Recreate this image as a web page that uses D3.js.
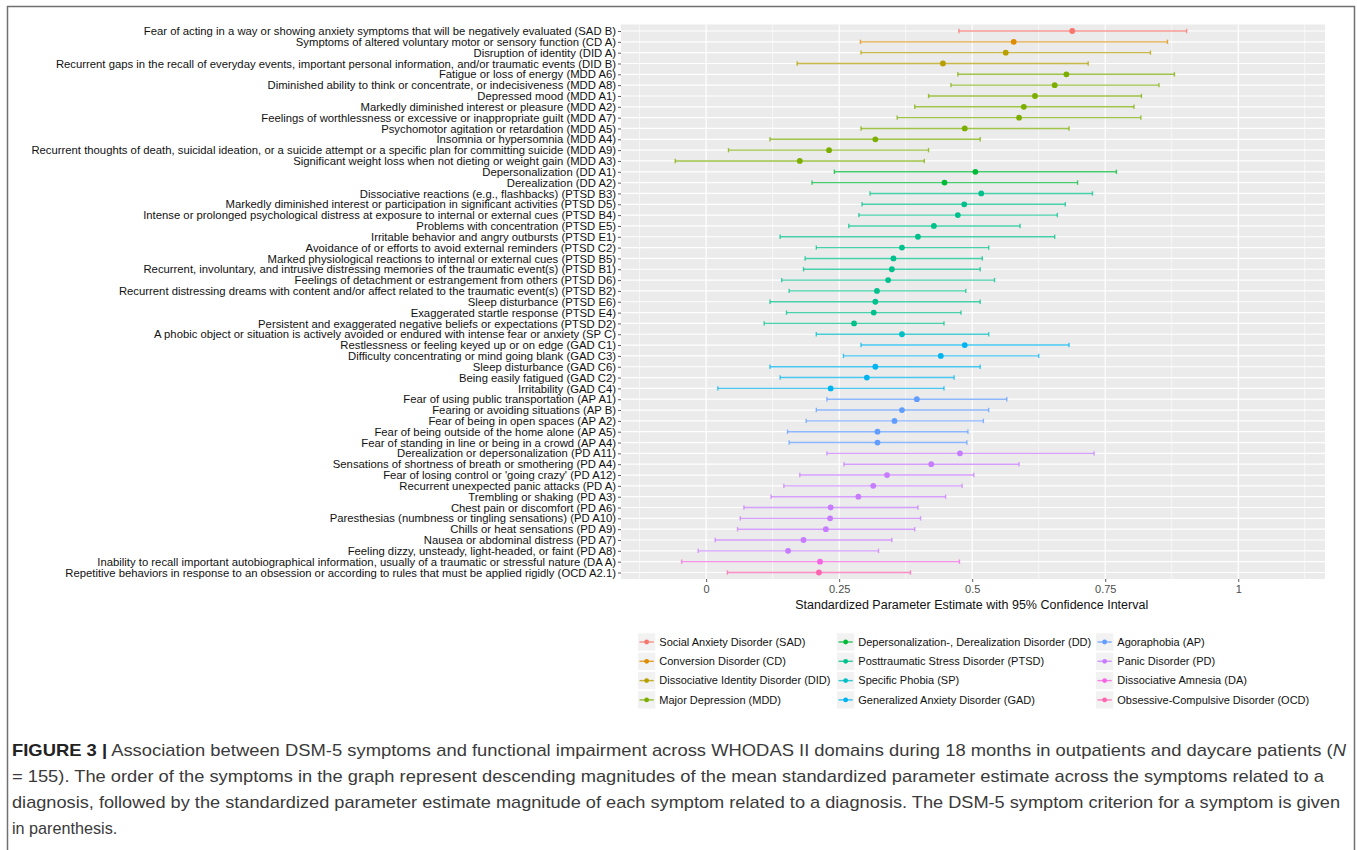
<!DOCTYPE html>
<html>
<head>
<meta charset="utf-8">
<script src="https://cdn.jsdelivr.net/npm/d3@7"></script>
<style>
  html, body { margin: 0; padding: 0; background: #fff; }
  svg { display: block; }
</style>
</head>
<body>
<script>
// ---- Data -------------------------------------------------------------
const symptoms = [
  "Fear of acting in a way or showing anxiety symptoms that will be negatively evaluated (SAD B)",
  "Symptoms of altered voluntary motor or sensory function (CD A)",
  "Disruption of identity (DID A)",
  "Recurrent gaps in the recall of everyday events, important personal information, and/or traumatic events (DID B)",
  "Fatigue or loss of energy (MDD A6)",
  "Diminished ability to think or concentrate, or indecisiveness (MDD A8)",
  "Depressed mood (MDD A1)",
  "Markedly diminished interest or pleasure (MDD A2)",
  "Feelings of worthlessness or excessive or inappropriate guilt (MDD A7)",
  "Psychomotor agitation or retardation (MDD A5)",
  "Insomnia or hypersomnia (MDD A4)",
  "Recurrent thoughts of death, suicidal ideation, or a suicide attempt or a specific plan for committing suicide (MDD A9)",
  "Significant weight loss when not dieting or weight gain (MDD A3)",
  "Depersonalization (DD A1)",
  "Derealization (DD A2)",
  "Dissociative reactions (e.g., flashbacks) (PTSD B3)",
  "Markedly diminished interest or participation in significant activities (PTSD D5)",
  "Intense or prolonged psychological distress at exposure to internal or external cues (PTSD B4)",
  "Problems with concentration (PTSD E5)",
  "Irritable behavior and angry outbursts (PTSD E1)",
  "Avoidance of or efforts to avoid external reminders (PTSD C2)",
  "Marked physiological reactions to internal or external cues (PTSD B5)",
  "Recurrent, involuntary, and intrusive distressing memories of the traumatic event(s) (PTSD B1)",
  "Feelings of detachment or estrangement from others (PTSD D6)",
  "Recurrent distressing dreams with content and/or affect related to the traumatic event(s) (PTSD B2)",
  "Sleep disturbance (PTSD E6)",
  "Exaggerated startle response (PTSD E4)",
  "Persistent and exaggerated negative beliefs or expectations (PTSD D2)",
  "A phobic object or situation is actively avoided or endured with intense fear or anxiety (SP C)",
  "Restlessness or feeling keyed up or on edge (GAD C1)",
  "Difficulty concentrating or mind going blank (GAD C3)",
  "Sleep disturbance (GAD C6)",
  "Being easily fatigued (GAD C2)",
  "Irritability (GAD C4)",
  "Fear of using public transportation (AP A1)",
  "Fearing or avoiding situations (AP B)",
  "Fear of being in open spaces (AP A2)",
  "Fear of being outside of the home alone (AP A5)",
  "Fear of standing in line or being in a crowd (AP A4)",
  "Derealization or depersonalization (PD A11)",
  "Sensations of shortness of breath or smothering (PD A4)",
  "Fear of losing control or 'going crazy' (PD A12)",
  "Recurrent unexpected panic attacks (PD A)",
  "Trembling or shaking (PD A3)",
  "Chest pain or discomfort (PD A6)",
  "Paresthesias (numbness or tingling sensations) (PD A10)",
  "Chills or heat sensations (PD A9)",
  "Nausea or abdominal distress (PD A7)",
  "Feeling dizzy, unsteady, light-headed, or faint (PD A8)",
  "Inability to recall important autobiographical information, usually of a traumatic or stressful nature (DA A)",
  "Repetitive behaviors in response to an obsession or according to rules that must be applied rigidly (OCD A2.1)"
];

const symptomDisorder = [
  "SAD", "CD", "DID", "DID",
  "MDD", "MDD", "MDD", "MDD", "MDD", "MDD", "MDD", "MDD", "MDD",
  "DD", "DD",
  "PTSD", "PTSD", "PTSD", "PTSD", "PTSD", "PTSD", "PTSD", "PTSD", "PTSD", "PTSD", "PTSD", "PTSD", "PTSD",
  "SP",
  "GAD", "GAD", "GAD", "GAD", "GAD",
  "AP", "AP", "AP", "AP", "AP",
  "PD", "PD", "PD", "PD", "PD", "PD", "PD", "PD", "PD", "PD",
  "DA", "OCD"
];

// Standardized parameter estimates with lower / upper 95% CI bounds
const estimate = [
  0.688, 0.578, 0.563, 0.445,
  0.677, 0.655, 0.618, 0.597, 0.588, 0.486, 0.318, 0.231, 0.176,
  0.506, 0.448,
  0.517, 0.485, 0.473, 0.428, 0.398, 0.368, 0.352, 0.349, 0.342, 0.321, 0.318, 0.315, 0.278,
  0.368,
  0.486, 0.441, 0.318, 0.302, 0.234,
  0.396, 0.368, 0.354, 0.322, 0.322,
  0.477, 0.423, 0.340, 0.314, 0.286, 0.234, 0.233, 0.225, 0.183, 0.154,
  0.214, 0.212
];
const ciLower = [
  0.475, 0.290, 0.291, 0.171,
  0.473, 0.460, 0.418, 0.392, 0.359, 0.291, 0.120, 0.042, -0.058,
  0.241, 0.199,
  0.308, 0.293, 0.287, 0.268, 0.139, 0.207, 0.186, 0.183, 0.142, 0.156, 0.120, 0.151, 0.109,
  0.207,
  0.291, 0.258, 0.120, 0.139, 0.022,
  0.227, 0.207, 0.188, 0.153, 0.156,
  0.227, 0.259, 0.176, 0.146, 0.122, 0.071, 0.064, 0.059, 0.017, -0.015,
  -0.046, 0.040
];
const ciUpper = [
  0.903, 0.867, 0.835, 0.718,
  0.880, 0.851, 0.818, 0.804, 0.817, 0.682, 0.515, 0.418, 0.410,
  0.771, 0.698,
  0.726, 0.675, 0.660, 0.590, 0.655, 0.531, 0.519, 0.515, 0.542, 0.488, 0.515, 0.479, 0.447,
  0.531,
  0.682, 0.625, 0.515, 0.466, 0.447,
  0.565, 0.531, 0.521, 0.492, 0.490,
  0.729, 0.588, 0.503, 0.481, 0.450, 0.398, 0.403, 0.392, 0.349, 0.324,
  0.476, 0.384
];

const disorderCodes = ["SAD", "CD", "DID", "MDD", "DD", "PTSD", "SP", "GAD", "AP", "PD", "DA", "OCD"];
const disorderNames = [
  "Social Anxiety Disorder (SAD)",
  "Conversion Disorder (CD)",
  "Dissociative Identity Disorder (DID)",
  "Major Depression (MDD)",
  "Depersonalization-, Derealization Disorder (DD)",
  "Posttraumatic Stress Disorder (PTSD)",
  "Specific Phobia (SP)",
  "Generalized Anxiety Disorder (GAD)",
  "Agoraphobia (AP)",
  "Panic Disorder (PD)",
  "Dissociative Amnesia (DA)",
  "Obsessive-Compulsive Disorder (OCD)"
];
const disorderColors = [
  "#F8766D", "#DE8C00", "#B79F00", "#7CAE00", "#00BA38", "#00C08B",
  "#00BFC4", "#00B4F0", "#619CFF", "#C77CFF", "#F564E3", "#FF64B0"
];

const xTicks = [0, 0.25, 0.5, 0.75, 1];
const xTickLabels = ["0", "0.25", "0.5", "0.75", "1"];
const xMinorTicks = [-0.125, 0.125, 0.375, 0.625, 0.875, 1.125];
const xAxisTitle = "Standardized Parameter Estimate with 95% Confidence Interval";

const captionLines = [
  { bold: "FIGURE 3 |", text: " Association between DSM-5 symptoms and functional impairment across WHODAS II domains during 18 months in outpatients and daycare patients (", italic: "N", width: 1334 },
  { text: "= 155). The order of the symptoms in the graph represent descending magnitudes of the mean standardized parameter estimate across the symptoms related to a", width: 1312 },
  { text: "diagnosis, followed by the standardized parameter estimate magnitude of each symptom related to a diagnosis. The DSM-5 symptom criterion for a symptom is given", width: 1328 },
  { text: "in parenthesis." }
];

// ---- Layout -----------------------------------------------------------
const W = 1357, H = 850;
const panel = { left: 621, right: 1325, top: 24.5, bottom: 579 };
const FONT = "'Liberation Sans', Arial, Helvetica, sans-serif";

const rows = symptoms.map((s, i) => ({
  label: s,
  disorder: symptomDisorder[i],
  est: estimate[i],
  lo: ciLower[i],
  hi: ciUpper[i]
}));

const color = d3.scaleOrdinal().domain(disorderCodes).range(disorderColors);

const x = d3.scaleLinear().domain([-0.16, 1.163]).range([panel.left, panel.right]);
const y = d3.scalePoint().domain(symptoms).range([panel.top, panel.bottom]).padding(0.6);

const svg = d3.select("body").append("svg")
  .attr("width", W).attr("height", H)
  .style("font-family", FONT);

svg.append("rect").attr("width", W).attr("height", H).attr("fill", "#fff");

// outer frame around figure
svg.append("path")
  .attr("d", `M7.5,${H} V6.5 H1354.5 V${H}`)
  .attr("fill", "none").attr("stroke", "#707070").attr("stroke-width", 1.5);

// ---- Panel ------------------------------------------------------------
svg.append("rect")
  .attr("x", panel.left).attr("y", panel.top)
  .attr("width", panel.right - panel.left).attr("height", panel.bottom - panel.top)
  .attr("fill", "#EBEBEB");

const grid = svg.append("g");
grid.selectAll("line.minor").data(xMinorTicks).join("line")
  .attr("x1", d => x(d)).attr("x2", d => x(d))
  .attr("y1", panel.top).attr("y2", panel.bottom)
  .attr("stroke", "#fff").attr("stroke-width", 0.6);
grid.selectAll("line.major").data(xTicks).join("line")
  .attr("x1", d => x(d)).attr("x2", d => x(d))
  .attr("y1", panel.top).attr("y2", panel.bottom)
  .attr("stroke", "#fff").attr("stroke-width", 1.2);
grid.selectAll("line.row").data(symptoms).join("line")
  .attr("x1", panel.left).attr("x2", panel.right)
  .attr("y1", d => y(d)).attr("y2", d => y(d))
  .attr("stroke", "#fff").attr("stroke-width", 1.2);

// ---- Error bars and estimates ----------------------------------------
const marks = svg.append("g");
const capH = 2.2;
const bars = marks.selectAll("g.bar").data(rows).join("g")
  .attr("stroke", d => color(d.disorder))
  .attr("stroke-opacity", 0.72)
  .attr("stroke-width", 1.4);
bars.append("line")
  .attr("x1", d => x(d.lo)).attr("x2", d => x(d.hi))
  .attr("y1", d => y(d.label)).attr("y2", d => y(d.label));
bars.append("line")
  .attr("x1", d => x(d.lo)).attr("x2", d => x(d.lo))
  .attr("y1", d => y(d.label) - capH).attr("y2", d => y(d.label) + capH);
bars.append("line")
  .attr("x1", d => x(d.hi)).attr("x2", d => x(d.hi))
  .attr("y1", d => y(d.label) - capH).attr("y2", d => y(d.label) + capH);

marks.selectAll("circle").data(rows).join("circle")
  .attr("cx", d => x(d.est)).attr("cy", d => y(d.label))
  .attr("r", 2.9)
  .attr("fill", d => color(d.disorder));

// ---- Axes -------------------------------------------------------------
const yAxis = d3.axisLeft(y).tickSize(3).tickPadding(2);
const gy = svg.append("g").attr("transform", `translate(${panel.left},0)`).call(yAxis);
gy.select(".domain").remove();
gy.selectAll(".tick line").attr("stroke", "#333").attr("stroke-width", 0.8);
gy.selectAll(".tick text")
  .attr("fill", "#111")
  .style("font-family", FONT)
  .style("font-size", "11.3px");

const xAxis = d3.axisBottom(x).tickValues(xTicks)
  .tickFormat((d, i) => xTickLabels[i]).tickSize(3).tickPadding(3);
const gx = svg.append("g").attr("transform", `translate(0,${panel.bottom})`).call(xAxis);
gx.select(".domain").remove();
gx.selectAll(".tick line").attr("stroke", "#333").attr("stroke-width", 0.8);
gx.selectAll(".tick text")
  .attr("fill", "#4D4D4D")
  .style("font-family", FONT)
  .style("font-size", "11px");

svg.append("text")
  .attr("x", (x(0) + x(1)) / 2 - 0.5)
  .attr("y", 609)
  .attr("text-anchor", "middle")
  .attr("fill", "#111")
  .style("font-size", "12.5px")
  .text(xAxisTitle);

// ---- Legend -----------------------------------------------------------
const legendCols = [638, 837, 1096];
const legendRowY = [642, 661.3, 680.6, 699.9];
const keySize = 17.3;
const legend = svg.append("g");
disorderCodes.forEach((code, i) => {
  const cx = legendCols[Math.floor(i / 4)];
  const cy = legendRowY[i % 4];
  const g = legend.append("g");
  g.append("rect")
    .attr("x", cx).attr("y", cy - keySize / 2)
    .attr("width", keySize).attr("height", keySize)
    .attr("fill", "#F2F2F2");
  g.append("line")
    .attr("x1", cx + 1.5).attr("x2", cx + keySize - 1.5)
    .attr("y1", cy).attr("y2", cy)
    .attr("stroke", color(code)).attr("stroke-opacity", 0.8).attr("stroke-width", 1.4);
  g.append("circle")
    .attr("cx", cx + keySize / 2).attr("cy", cy).attr("r", 2.4)
    .attr("fill", color(code));
  g.append("text")
    .attr("x", cx + keySize + 4).attr("y", cy)
    .attr("dy", "0.35em")
    .attr("fill", "#111")
    .style("font-size", "11px")
    .text(disorderNames[i]);
});

// ---- Caption ----------------------------------------------------------
const capY = [756, 782, 808, 834];
const caption = svg.append("g").attr("fill", "#3a3a3a").style("font-size", "16.2px");
captionLines.forEach((ln, i) => {
  const t = caption.append("text").attr("x", 12).attr("y", capY[i]);
  if (ln.width) t.attr("textLength", ln.width).attr("lengthAdjust", "spacingAndGlyphs");
  if (ln.bold) t.append("tspan").attr("font-weight", "bold").attr("fill", "#222").text(ln.bold);
  t.append("tspan").text(ln.text);
  if (ln.italic) t.append("tspan").attr("font-style", "italic").text(ln.italic);
});
</script>
</body>
</html>
